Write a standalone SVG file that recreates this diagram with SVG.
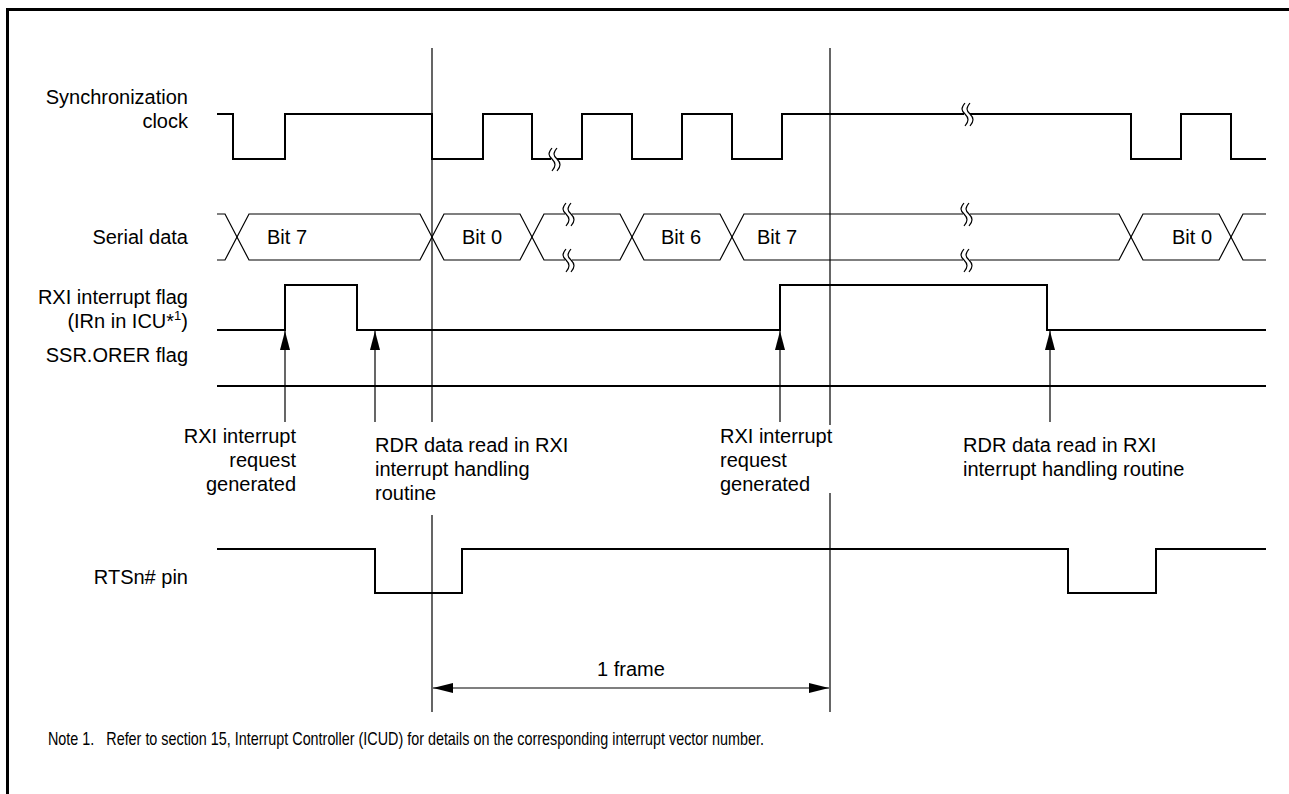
<svg xmlns="http://www.w3.org/2000/svg" width="1289" height="794" viewBox="0 0 1289 794">
<defs>
<style>
text{font-family:"Liberation Sans",Arial,sans-serif;font-size:20px;fill:#000}
.lbl{text-anchor:end}
.note{font-size:19px;white-space:pre}
.sig{fill:none;stroke:#000;stroke-width:2;stroke-linejoin:miter}
.dat{fill:none;stroke:#000;stroke-width:1.2}
.thin{fill:none;stroke:#000;stroke-width:1.2}
.brk{fill:none;stroke:#000;stroke-width:1.2}
.gap{fill:#fff;stroke:none}
</style>
<marker id="ah" viewBox="0 0 10 10" refX="10" refY="5" markerWidth="19" markerHeight="10" markerUnits="userSpaceOnUse" orient="auto" preserveAspectRatio="none">
<path d="M0,0 L10,5 L0,10 Z" fill="#000"/>
</marker>
<marker id="ah2" viewBox="0 0 10 10" refX="10" refY="5" markerWidth="20" markerHeight="10" markerUnits="userSpaceOnUse" orient="auto-start-reverse" preserveAspectRatio="none">
<path d="M0,0 L10,5 L0,10 Z" fill="#000"/>
</marker>
</defs>
<rect width="1289" height="794" fill="#fff"/>
<path d="M7.5,794 V9.5 H1289" fill="none" stroke="#000" stroke-width="3"/>

<g id="labels">
<text class="lbl" x="188" y="104">Synchronization</text>
<text class="lbl" x="188" y="128">clock</text>
<text class="lbl" x="188" y="244">Serial data</text>
<text class="lbl" x="188" y="304">RXI interrupt flag</text>
<text class="lbl" x="188" y="328">(IRn in ICU*<tspan font-size="13" dy="-8">1</tspan><tspan dy="8">)</tspan></text>
<text class="lbl" x="188" y="362">SSR.ORER flag</text>
<text class="lbl" x="188" y="584">RTSn# pin</text>
</g>

<g id="sync-clock">
<path class="sig" d="M217,114 H233 V159 H285 V114 H432 V159 H483 V114 H532 V159 H582 V114 H632 V159 H682 V114 H732 V159 H782 V114 H1131 V159 H1181 V114 H1231 V159 H1266"/>
<rect class="gap" x="551" y="150" width="6" height="20"/>
<path class="brk" d="M552,148 c-4,5 -4,7 0,11 c4,4 4,7 0,12 M557,148 c-4,5 -4,7 0,11 c4,4 4,7 0,12"/>
<rect class="gap" x="964" y="105" width="6" height="20"/>
<path class="brk" d="M965,103 c-4,5 -4,7 0,11 c4,4 4,7 0,12 M970,103 c-4,5 -4,7 0,11 c4,4 4,7 0,12"/>
</g>

<g id="serial-data">
<path class="dat" d="M217,214 H225 L249,260 H420 L444,214 H520 L544,260 H620 L644,214 H720 L744,260 H1119 L1143,214 H1219 L1243,260 H1266"/>
<path class="dat" d="M217,260 H225 L249,214 H420 L444,260 H520 L544,214 H620 L644,260 H720 L744,214 H1119 L1143,260 H1219 L1243,214 H1266"/>
<rect class="gap" x="565" y="205" width="7" height="18"/>
<rect class="gap" x="565" y="251" width="7" height="18"/>
<path class="brk" d="M566,203 c-4,5 -4,7 0,11 c4,4 4,7 0,12 M571,203 c-4,5 -4,7 0,11 c4,4 4,7 0,12 M566,249 c-4,5 -4,7 0,11 c4,4 4,7 0,12 M571,249 c-4,5 -4,7 0,11 c4,4 4,7 0,12"/>
<rect class="gap" x="963" y="205" width="7" height="18"/>
<rect class="gap" x="963" y="251" width="7" height="18"/>
<path class="brk" d="M964,203 c-4,5 -4,7 0,11 c4,4 4,7 0,12 M969,203 c-4,5 -4,7 0,11 c4,4 4,7 0,12 M964,249 c-4,5 -4,7 0,11 c4,4 4,7 0,12 M969,249 c-4,5 -4,7 0,11 c4,4 4,7 0,12"/>
<text x="267" y="244">Bit 7</text>
<text x="462" y="244">Bit 0</text>
<text x="661" y="244">Bit 6</text>
<text x="757" y="244">Bit 7</text>
<text x="1172" y="244">Bit 0</text>
</g>

<g id="rxi-flag">
<path class="sig" d="M217,330 H285 V285 H357 V330 H780 V285 H1047 V330 H1266"/>
</g>

<g id="ssr-orer">
<path class="sig" d="M217,386 H1266"/>
</g>

<g id="rts-pin">
<path class="sig" d="M217,549 H375 V593 H462 V549 H1068 V593 H1156 V549 H1266"/>
</g>

<g id="connectors">
<path class="thin" d="M432,48 V422 M432,515 V712 M830,48 V425 M830,493 V712"/>
<path class="thin" d="M285,422 V331" marker-end="url(#ah)"/>
<path class="thin" d="M375,422 V331" marker-end="url(#ah)"/>
<path class="thin" d="M780,422 V331" marker-end="url(#ah)"/>
<path class="thin" d="M1050,422 V331" marker-end="url(#ah)"/>
<path class="thin" d="M433,688 H829" marker-start="url(#ah2)" marker-end="url(#ah2)"/>
</g>

<g id="annotations">
<text class="lbl" x="296" y="443">RXI interrupt</text>
<text class="lbl" x="296" y="467">request</text>
<text class="lbl" x="296" y="491">generated</text>
<text x="375" y="452">RDR data read in RXI</text>
<text x="375" y="476">interrupt handling</text>
<text x="375" y="500">routine</text>
<text x="720" y="443">RXI interrupt</text>
<text x="720" y="467">request</text>
<text x="720" y="491">generated</text>
<text x="963" y="452">RDR data read in RXI</text>
<text x="963" y="476">interrupt handling routine</text>
<text x="631" y="676" text-anchor="middle">1 frame</text>
<text class="note" xml:space="preserve" x="48" y="745" textLength="716" lengthAdjust="spacingAndGlyphs">Note 1.   Refer to section 15, Interrupt Controller (ICUD) for details on the corresponding interrupt vector number.</text>
</g>
</svg>
